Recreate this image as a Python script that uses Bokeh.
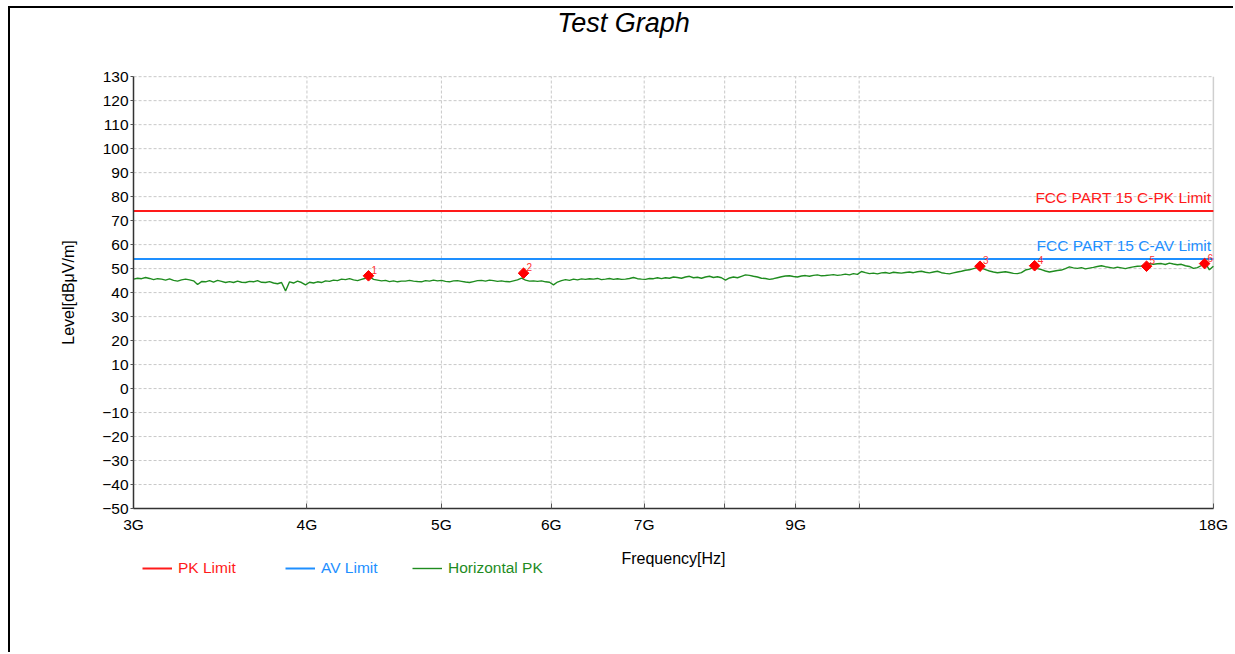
import numpy as np
from bokeh.plotting import figure
from bokeh.models import Range1d, FixedTicker, Legend, LegendItem, ColumnDataSource, Label
from bokeh.core.properties import value
from bokeh.embed import file_html
from bokeh.resources import INLINE

FONT = "Liberation Sans"
RED = "#ff1a1a"
BLUE = "#1e8fff"
GREEN = "#1f8c1f"
GRID = "#c8c8c8"

# ---------------- data ----------------
x_ticks = [3e9, 4e9, 5e9, 6e9, 7e9, 8e9, 9e9, 10e9, 18e9]
x_tick_labels = ["3G", "4G", "5G", "6G", "7G", "", "9G", "", "18G"]
y_ticks = [-50, -40, -30, -20, -10, 0, 10, 20, 30, 40, 50, 60, 70, 80, 90, 100, 110, 120, 130]

limit_freq = [3e9, 18e9]
pk_limit = [74, 74]
av_limit = [54, 54]

# Horizontal PK sweep, 3 GHz .. 18 GHz (samples evenly spaced on the log axis)
h_pk = [
    45.6, 46.0, 45.8, 46.3, 45.9, 45.4, 45.8, 45.6, 45.2, 45.7, 45.1, 44.8, 45.3, 45.6, 45.3, 44.9,
    43.4, 44.6, 44.5, 45.0, 44.4, 45.1, 44.7, 44.2, 44.6, 44.2, 44.8, 44.3, 44.2, 44.7, 44.5, 45.0,
    44.3, 44.2, 44.6, 44.0, 43.7, 44.2, 40.7, 44.5, 44.0, 44.8, 44.2, 43.2, 44.3, 44.0, 44.5, 44.2,
    44.9, 44.7, 45.2, 45.0, 45.6, 45.4, 45.8, 45.3, 45.0, 45.5, 46.0, 46.6, 45.5, 45.2, 44.9, 45.1,
    44.6, 44.9, 44.5, 44.8, 44.8,
    45.1, 44.8, 44.6, 44.5, 45.0, 44.8, 45.2, 44.9, 45.1, 44.7, 44.5, 44.9, 45.0, 44.7, 44.4, 44.2,
    44.6, 45.0, 45.1, 44.8, 45.2, 45.0, 44.7, 44.9, 44.6, 44.5, 44.9, 45.3, 46.0, 45.2, 44.8, 44.9,
    44.7, 44.9, 44.5, 44.3, 43.2, 44.4, 45.0, 45.4, 45.1, 45.6, 45.3, 45.7, 45.5, 45.8, 45.6, 45.9,
    45.4, 45.6, 45.9, 45.5, 45.8, 45.5, 45.6, 45.9, 46.3, 45.8, 45.6, 45.5, 45.9, 45.8, 46.2, 45.8,
    46.2, 46.0, 46.5,
    46.3, 46.0, 46.5, 46.8, 46.2, 46.4, 46.0, 46.5, 46.8, 46.3, 46.6, 46.2, 45.2, 46.1, 46.5, 46.2,
    46.8, 47.4, 47.2, 46.8, 46.5, 46.0, 45.9, 45.5, 45.8, 46.2, 46.6, 46.9, 47.0, 46.7, 46.5, 46.9,
    47.1, 46.8, 47.2, 47.4, 47.0, 47.1, 47.3, 47.5, 47.2, 47.4, 47.7, 47.4, 47.9, 47.6, 48.8, 48.3,
    47.9, 48.1, 47.8, 48.2, 48.4, 48.0, 48.5, 48.3, 48.1, 48.4, 48.6, 48.3, 48.7, 48.9, 48.5, 48.2,
    48.6, 48.9, 48.3,
    48.0, 47.8, 48.2, 48.6, 48.9, 49.3, 49.5, 50.0, 50.4, 50.2, 49.6, 49.0, 48.6, 48.3, 48.5, 48.7,
    48.4, 48.0, 47.9, 48.3, 49.4, 49.8, 50.5, 50.0, 49.6, 49.0, 48.6, 48.9, 49.2, 49.4, 50.0, 50.7,
    50.3, 50.1, 50.4, 49.9, 50.2, 50.5, 50.9, 51.2, 50.8, 50.5, 50.2, 50.6, 50.3, 50.0, 50.4, 50.7,
    51.0, 51.1, 51.4, 52.1, 51.8, 52.0, 52.1, 51.7, 52.3, 51.9, 51.6, 51.8, 51.2, 50.9, 50.1, 50.4,
    51.3, 52.3, 49.5, 51.0,
]
h_freq = np.geomspace(3e9, 18e9, len(h_pk))

mk_freq = [4.43e9, 5.73e9, 12.22e9, 13.38e9, 16.11e9, 17.74e9]
mk_level = [47.0, 48.1, 51.0, 51.2, 51.0, 52.1]
mk_label = ["1", "2", "3", "4", "5", "6"]

lim_text = ["FCC PART 15 C-PK Limit", "FCC PART 15 C-AV Limit"]
lim_text_level = [74, 54]
lim_text_color = [RED, BLUE]

# ---------------- figure ----------------
# The plotting frame is made larger than the 3G..18G / -50..130 scale, so that the
# title, the end tick labels and the legend row all sit inside it (annotations and
# fixed-location axes are clipped to the frame).  The axes are pinned to the scale.
p = figure(width=1225, height=646, x_axis_type="log",
           x_range=Range1d(2.6355e9, 18.58e9), y_range=Range1d(-85, 158),
           output_backend="svg", toolbar_location=None,
           min_border_left=45, min_border_top=1, min_border_right=3, min_border_bottom=62)
p.styles = {"border-top": "2px solid black", "border-left": "2px solid black",
            "margin-left": "8px", "margin-top": "6px"}
p.background_fill_color = "white"
p.border_fill_color = "white"
p.outline_line_color = None

# axes
p.xaxis.ticker = FixedTicker(ticks=x_ticks, minor_ticks=[])
p.xaxis.major_label_overrides = {int(t): lab for t, lab in zip(x_ticks, x_tick_labels)}
p.xaxis.fixed_location = y_ticks[0]
p.xaxis.bounds = (x_ticks[0], x_ticks[-1])
p.yaxis.ticker = FixedTicker(ticks=y_ticks, minor_ticks=[])
p.yaxis.fixed_location = x_ticks[0]
p.yaxis.bounds = (y_ticks[0], y_ticks[-1])
for ax in (p.xaxis[0], p.yaxis[0]):
    ax.major_label_text_font = FONT
    ax.major_label_text_font_size = "15.5px"
    ax.major_label_text_color = "black"
    ax.axis_label_text_font = FONT
    ax.axis_label_text_font_size = "16px"
    ax.axis_label_text_font_style = "normal"
    ax.axis_label_text_color = "black"
    ax.axis_line_color = "#333333"
    ax.axis_line_width = 1.5
    ax.major_tick_line_color = "#555555"
    ax.minor_tick_line_color = None
p.xaxis.axis_label = "Frequency[Hz]"
p.xaxis.major_tick_in = 5
p.xaxis.major_tick_out = 0
p.xaxis.major_label_standoff = 7
p.xaxis.axis_label_standoff = 14
p.yaxis.major_tick_in = 0
p.yaxis.major_tick_out = 3
p.yaxis.major_label_standoff = 2

p.xgrid.grid_line_color = None
p.ygrid.grid_line_color = None

# grid lines limited to the scale, and the right edge of the plot area
p.segment(x0=x_ticks[0], y0=y_ticks, x1=x_ticks[-1], y1=y_ticks,
          line_color=GRID, line_dash="3 2", line_width=1)
p.segment(x0=x_ticks[1:-1], y0=y_ticks[0], x1=x_ticks[1:-1], y1=y_ticks[-1],
          line_color=GRID, line_dash="3 2", line_width=1)
p.segment(x0=[x_ticks[-1]], y0=y_ticks[0], x1=[x_ticks[-1]], y1=y_ticks[-1],
          line_color="#cfcfcf", line_width=1.5)

# series
r_pk = p.line(limit_freq, pk_limit, line_color=RED, line_width=2)
r_av = p.line(limit_freq, av_limit, line_color=BLUE, line_width=2)
r_h = p.line(h_freq, h_pk, line_color=GREEN, line_width=1.4)

mk_src = ColumnDataSource(dict(x=mk_freq, y=mk_level, t=mk_label))
p.scatter("x", "y", source=mk_src, marker="square", angle=np.pi / 4, size=7.5,
          fill_color="#ff0000", line_color="#ff0000")
p.text("x", "y", text="t", source=mk_src, x_offset=3, y_offset=-2,
       text_font=value(FONT), text_font_size="10px", text_color="#ff3030",
       text_align="left", text_baseline="bottom")

lim_src = ColumnDataSource(dict(x=[18e9, 18e9], y=lim_text_level, t=lim_text, c=lim_text_color))
p.text("x", "y", text="t", source=lim_src, text_color="c", x_offset=-2, y_offset=-5,
       text_font=value(FONT), text_font_size="15.5px", text_align="right", text_baseline="bottom")

# title and y-axis title (screen units, relative to the frame's bottom-left corner)
p.add_layout(Label(x=568, y=570, x_units="screen", y_units="screen", text="Test Graph",
                   text_font=FONT, text_font_style="italic", text_font_size="27px",
                   text_color="black", text_align="center", text_baseline="middle"))
p.add_layout(Label(x=13, y=300, x_units="screen", y_units="screen", text="Level[dBμV/m]",
                   angle=np.pi / 2, text_font=FONT, text_font_size="16px",
                   text_color="black", text_align="center", text_baseline="middle"))

# legends (one per item so each label takes its series colour)
for rend, lab, col, lx in [(r_pk, "PK Limit", RED, 87), (r_av, "AV Limit", BLUE, 230),
                           (r_h, "Horizontal PK", GREEN, 357)]:
    lg = Legend(items=[LegendItem(label=lab, renderers=[rend])], location=(lx, 14),
                orientation="horizontal", padding=0, margin=0, spacing=0,
                glyph_width=30, glyph_height=20, label_standoff=6,
                label_text_font=FONT, label_text_font_size="15.5px", label_text_color=col,
                border_line_color=None, background_fill_alpha=0)
    p.add_layout(lg)

open("out.html", "w").write(file_html(p, INLINE))
